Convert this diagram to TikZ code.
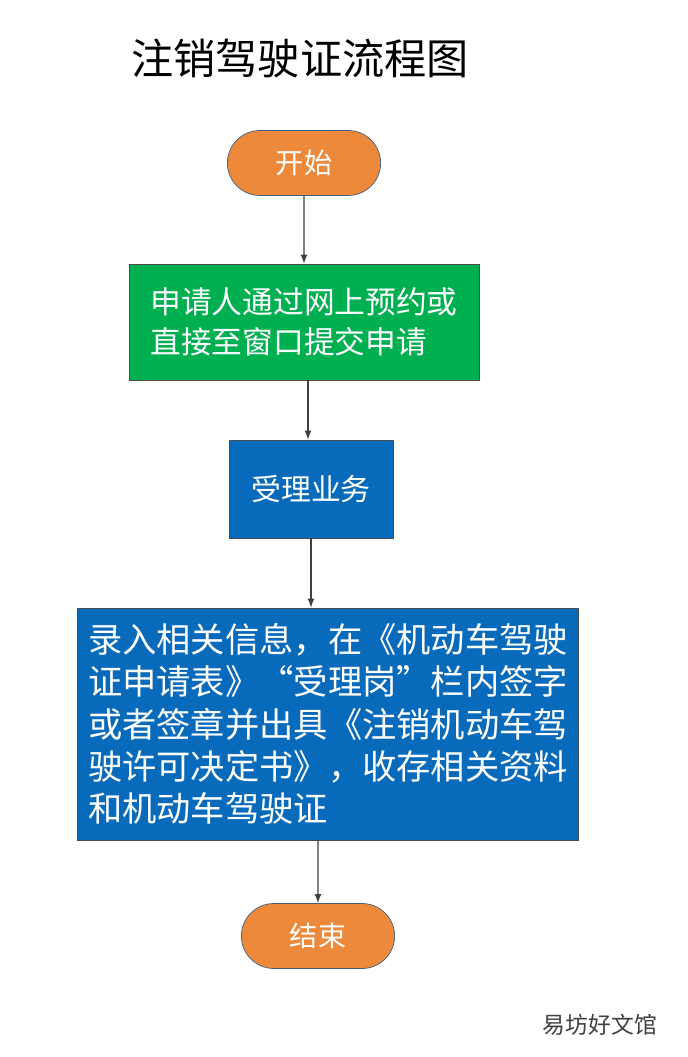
\documentclass[tikz,border=0pt]{standalone}
\usepackage{fontspec}
\setmainfont{Noto Sans CJK SC}
\usetikzlibrary{shapes.misc}
\definecolor{termorange}{RGB}{237,137,58}
\definecolor{termedge}{RGB}{64,96,128}
\definecolor{stepgreen}{RGB}{0,176,80}
\definecolor{stepblue}{RGB}{8,106,186}
\tikzset{
  terminal/.style={shape=rounded rectangle,draw=termedge,fill=termorange,text=white,
    minimum width=3.3cm,minimum height=1.3cm,font=\fontsize{16}{18}\selectfont},
  stepbox/.style={shape=rectangle,draw=black!70,text=white,inner sep=6pt},
  flow/.style={->,>=latex,draw=black!75,thick}
}
\begin{document}
\begin{tikzpicture}[x=0.02cm,y=-0.02cm]
  \useasboundingbox (0,0) rectangle (687,1057);
  % title
  \node[font=\fontsize{24}{27}\selectfont] (title) at (300,58) {注销驾驶证流程图};

  % nodes
  \node[terminal] (start) at (304,163) {开始};
  \node[stepbox,fill=stepgreen,minimum width=7cm,minimum height=2.32cm,
    align=left,font=\fontsize{17.5}{23}\selectfont] (apply) at (304,322)
    {申请人通过网上预约或\\直接至窗口提交申请\hspace{1.3em}};
  \node[stepbox,fill=stepblue,minimum width=3.28cm,minimum height=1.96cm,
    font=\fontsize{17}{20}\selectfont] (accept) at (311,489) {受理业务};
  \node[stepbox,fill=stepblue,minimum width=9.48cm,minimum height=4.64cm,
    align=left,font=\fontsize{19.5}{24}\selectfont] (record) at (328,724)
    {录入相关信息，在《机动车驾驶\\证申请表》“受理岗”栏内签字\\或者签章并出具《注销机动车驾\\驶许可决定书》，收存相关资料\\和机动车驾驶证\hspace{6em}};
  \node[terminal] (finish) at (318,936) {结束};

  % watermark
  \node[text=black!75,font=\fontsize{13}{15}\selectfont] (mark) at (600,1025) {易坊好文馆};

  % edges
  \draw[flow] (start) -- (start |- apply.north);
  \draw[flow] ([xshift=0.08cm]apply.south) -- ([xshift=0.08cm]apply.south |- accept.north);
  \draw[flow] (accept) -- (accept |- record.north);
  \draw[flow] (finish |- record.south) -- (finish);
\end{tikzpicture}
\end{document}
